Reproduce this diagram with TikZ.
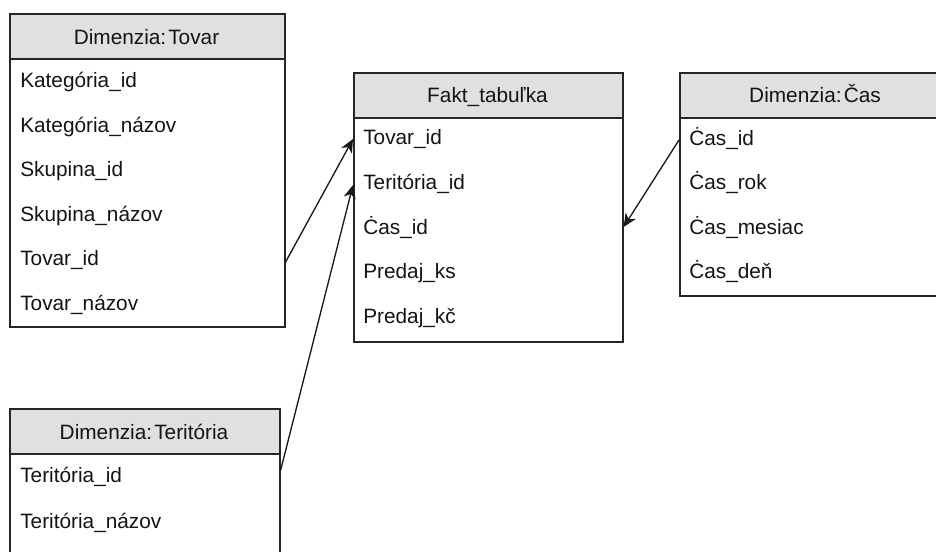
\documentclass[tikz,border=0pt]{standalone}
\usepackage{fontspec}
\setmainfont{Liberation Sans}
\usetikzlibrary{arrows.meta}
\begin{document}
\begin{tikzpicture}[x=0.75pt,y=-0.75pt,
  tablebox/.style={draw=black!85, line width=1.2pt, fill=white, inner sep=0pt, anchor=north west},
  headbox/.style={draw=black!85, line width=1.2pt, fill=black!12, inner sep=0pt, anchor=north west, minimum height=33.75pt},
  field/.style={anchor=base west, inner sep=0pt, font=\fontsize{15.6}{18}\selectfont, text=black!92},
  title/.style={anchor=base, inner sep=0pt, font=\fontsize{15.6}{18}\selectfont, text=black!92},
  link/.style={draw=black!90, line width=1pt, -{Stealth[length=10pt,width=9pt,inset=3pt]}}]
\useasboundingbox (0,0) rectangle (936,552);

% Dimenzia: Tovar
\node[tablebox, minimum width=206.25pt, minimum height=234.75pt] (tovar) at (9,13) {};
\node[headbox, minimum width=206.25pt] (tovarhead) at (9,13) {};
\node[title] (tovartitle) at (146.5,45) {Dimenzia:\hspace{0.1em}Tovar};
\node[field] (tv1) at (20,88) {Kategória\_id};
\node[field] (tv2) at (20,132.5) {Kategória\_názov};
\node[field] (tv3) at (20,177) {Skupina\_id};
\node[field] (tv4) at (20,221.5) {Skupina\_názov};
\node[field] (tv5) at (20,266) {Tovar\_id};
\node[field] (tv6) at (20,310.5) {Tovar\_názov};

% Fakt_tabuľka
\node[tablebox, minimum width=201.75pt, minimum height=201.75pt] (fakt) at (353,72) {};
\node[headbox, minimum width=201.75pt] (fakthead) at (353,72) {};
\node[title] (fakttitle) at (487.5,103) {Fakt\_tabuľka};
\node[field] (f1) at (363,145) {Tovar\_id};
\node[field] (f2) at (363,190) {Teritória\_id};
\node[field] (f3) at (363,235) {Ċas\_id};
\node[field] (f4) at (363,279) {Predaj\_ks};
\node[field] (f5) at (363,324) {Predaj\_kč};

% Dimenzia: Čas
\node[tablebox, minimum width=199.5pt, minimum height=167.25pt] (cas) at (679,72) {};
\node[headbox, minimum width=199.5pt] (cashead) at (679,72) {};
\node[title] (castitle) at (815,103) {Dimenzia:\hspace{0.1em}Čas};
\node[field] (c1) at (689,146) {Ċas\_id};
\node[field] (c2) at (689,190) {Ċas\_rok};
\node[field] (c3) at (689,235) {Ċas\_mesiac};
\node[field] (c4) at (689,279) {Ċas\_deň};

% Dimenzia: Teritória
\node[tablebox, minimum width=202.5pt, minimum height=144pt] (terit) at (9,408) {};
\node[headbox, minimum width=202.5pt] (terithead) at (9,408) {};
\node[title] (terittitle) at (144,440) {Dimenzia:\hspace{0.1em}Teritória};
\node[field] (t1) at (20,483) {Teritória\_id};
\node[field] (t2) at (20,528) {Teritória\_názov};

% Links between the dimension keys and the fact table
\coordinate (tovarout) at ([yshift=3pt]tovar.east |- tv5.base);
\coordinate (faktin1) at ([yshift=4.5pt]fakt.west |- f1.base);
\coordinate (teritout) at ([yshift=9.5pt]terit.east |- t1.base);
\coordinate (faktin2) at ([yshift=3.75pt]fakt.west |- f2.base);
\coordinate (casout) at ([yshift=4.5pt]cas.west |- c1.base);
\coordinate (faktin3) at ([yshift=6pt]fakt.east |- f3.base);
\draw[link] (tovarout) -- (faktin1);
\draw[link] (teritout) -- (faktin2);
\draw[link] (casout) -- (faktin3);
\end{tikzpicture}
\end{document}
